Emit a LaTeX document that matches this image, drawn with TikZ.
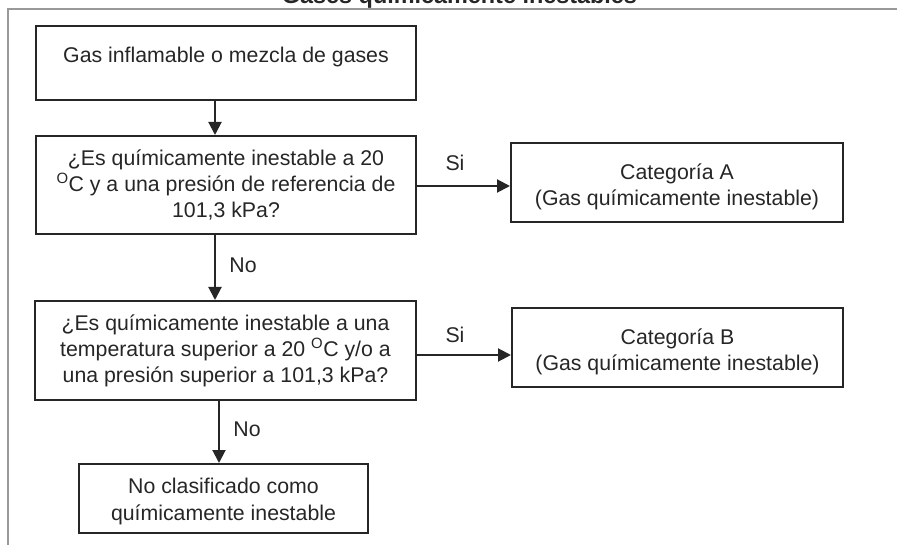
\documentclass[tikz,border=0pt]{standalone}
\usepackage{fontspec}
\setmainfont{Liberation Sans}
\usetikzlibrary{arrows.meta}
\begin{document}
\begin{tikzpicture}[x=1pt,y=-1pt,
  box/.style={draw=black!85, line width=2pt, rectangle, inner sep=0pt, align=center,
    font=\fontsize{21.3}{26}\selectfont, text=black!85},
  arr/.style={draw=black!85, line width=2pt, -{Triangle[length=13pt,width=13pt]}},
  lbl/.style={font=\fontsize{21.3}{26}\selectfont, text=black!85, inner sep=0pt},
  frame/.style={draw=black!40, line width=1.2pt}
]
\useasboundingbox (0,0) rectangle (897,545);
\draw[frame] (8,545) -- (8,9) -- (897,9);
\node[font=\bfseries\fontsize{23.4}{27}\selectfont, text=black!85, anchor=base, inner sep=0pt] (title) at (459.5,4) {Gases químicamente inestables};

\node[box, minimum width=380pt, minimum height=74pt, text height=15pt, text depth=16pt] (b1) at (226,63) {Gas inflamable o mezcla de gases};
\node[box, minimum width=380pt, minimum height=98pt] (b2) at (226,185) {¿Es químicamente inestable a 20\\\textsuperscript{O}C y a una presión de referencia de\\101,3 kPa?};
\node[box, minimum width=332pt, minimum height=79pt] (ca) at (677,182.5) {\rule{0pt}{25pt}Categoría A\\(Gas químicamente inestable)};
\node[box, minimum width=381pt, minimum height=99pt] (b4) at (225.5,350.5) {¿Es químicamente inestable a una\\temperatura superior a 20 \textsuperscript{O}C y/o a\\una presión superior a 101,3 kPa?};
\node[box, minimum width=331pt, minimum height=79pt] (cb) at (677.5,347.5) {\rule{0pt}{25pt}Categoría B\\(Gas químicamente inestable)};
\node[box, minimum width=289pt, minimum height=69pt, font=\fontsize{21.3}{27}\selectfont] (b5) at (223.5,498.5) {\rule{0pt}{22pt}No clasificado como\\químicamente inestable};

\coordinate (ax) at (215,0);
\coordinate (ax3) at (219,0);
\coordinate (ay1) at (0,186);
\coordinate (ay2) at (0,355);

\draw[arr] (b1.south -| ax) -- (b2.north -| ax);
\draw[arr] (b2.south -| ax) -- (b4.north -| ax);
\draw[arr] (b4.south -| ax3) -- (b5.north -| ax3);
\draw[arr] (b2.east |- ay1) -- (ca.west |- ay1);
\draw[arr] (b4.east |- ay2) -- (cb.west |- ay2);

\node[lbl] (si1) at (455,163) {Si};
\node[lbl] (si2) at (455,335) {Si};
\node[lbl] (no1) at (243,265) {No};
\node[lbl] (no2) at (247,429) {No};
\end{tikzpicture}
\end{document}
